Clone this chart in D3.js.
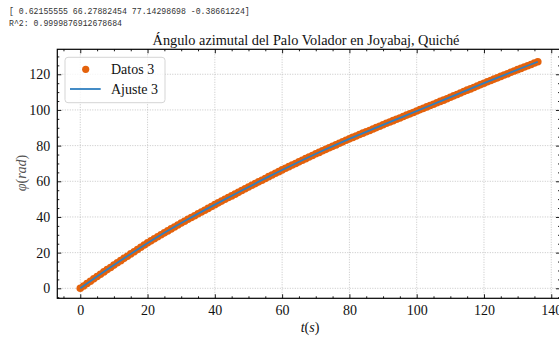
<!DOCTYPE html>
<html lang="es">
<head>
<meta charset="UTF-8">
<title>Ángulo azimutal</title>
<script src="https://cdn.jsdelivr.net/npm/d3@7/dist/d3.min.js"></script>
<style>
    body { margin: 0; background: #fff; }
    svg { display: block; }
    .serif { font-family: "Liberation Serif", "Times New Roman", serif; }
    .mono { font-family: "Liberation Mono", "DejaVu Sans Mono", monospace; }
</style>
</head>
<body>
<div id="chart"></div>
<script>
// printed output above the figure
const consoleLines = [
    "[ 0.62155555 66.27882454 77.14298698 -0.38661224]",
    "R^2: 0.9999876912678684"
];

// Datos 3: time (s), one point per second
const tiempo = d3.range(0, 137);   // 0 ... 136
const angulo = [
    0, 1.3, 2.7, 4.0, 5.3, 6.6, 7.9, 9.2, 10.5, 11.7,
    13.0, 14.3, 15.5, 16.8, 18.0, 19.3, 20.5, 21.8, 23.0, 24.3,
    25.5, 26.6, 27.8, 28.9, 30.0, 31.1, 32.2, 33.3, 34.4, 35.5,
    36.6, 37.6, 38.7, 39.7, 40.7, 41.8, 42.8, 43.8, 44.8, 45.9,
    46.9, 47.9, 48.9, 49.9, 50.9, 51.8, 52.8, 53.8, 54.8, 55.8,
    56.8, 57.8, 58.7, 59.7, 60.6, 61.6, 62.6, 63.5, 64.5, 65.4,
    66.4, 67.3, 68.2, 69.1, 70.0, 70.9, 71.8, 72.7, 73.6, 74.5,
    75.4, 76.2, 77.1, 77.9, 78.8, 79.6, 80.4, 81.3, 82.1, 83.0,
    83.8, 84.6, 85.4, 86.2, 87.0, 87.8, 88.5, 89.3, 90.1, 90.9,
    91.7, 92.5, 93.2, 94.0, 94.8, 95.5, 96.3, 97.1, 97.8, 98.6,
    99.4, 100.2, 100.9, 101.7, 102.5, 103.2, 104.0, 104.8, 105.5, 106.3,
    107.1, 107.9, 108.7, 109.5, 110.3, 111.1, 111.8, 112.6, 113.4, 114.2,
    115.0, 115.8, 116.5, 117.3, 118.0, 118.8, 119.6, 120.3, 121.1, 121.8,
    122.6, 123.3, 124.1, 124.8, 125.5, 126.3, 127.0
];

// Ajuste 3: fitted curve
const ajusteT = [0, 8, 16, 24, 32, 40, 48, 56, 64, 72, 80, 88, 96, 104, 112, 120, 128, 136];
const ajustePhi = [0, 10.5, 20.5, 30.0, 38.7, 46.9, 54.8, 62.6, 70.0, 77.1, 83.8, 90.1, 96.3, 102.5, 108.7, 115.0, 121.1, 127.0];

const xTicks = [0, 20, 40, 60, 80, 100, 120, 140];
const yTicks = [0, 20, 40, 60, 80, 100, 120];

const titulo = "Ángulo azimutal del Palo Volador en Joyabaj, Quiché";

const width = 559, height = 337;
const plot = { left: 57.3, right: 560, top: 49.3, bottom: 298.3 };

const svg = d3.select("#chart").append("svg")
    .attr("width", width)
    .attr("height", height);

// console text
svg.selectAll("text.console")
    .data(consoleLines)
    .enter()
    .append("text")
    .attr("class", "console mono")
    .attr("x", 9)
    .attr("y", (d, i) => 14 + i * 12)
    .attr("font-size", "8.2px")
    .attr("fill", "#333")
    .attr("xml:space", "preserve")
    .text(d => d);

const x = d3.scaleLinear().domain([-6.83, 142.6]).range([plot.left, plot.right]);
const y = d3.scaleLinear().domain([-5.6, 134.0]).range([plot.bottom, plot.top]);

const xMinor = d3.range(-5, 143, 5).filter(v => v % 20 !== 0);
const yMinor = d3.range(-5, 134, 5).filter(v => v % 20 !== 0);

// grid
const grid = svg.append("g")
    .attr("stroke", "#b8b8b8")
    .attr("stroke-width", 0.8)
    .attr("stroke-dasharray", "1,1.5");
grid.selectAll("line.gx").data(xTicks).enter().append("line")
    .attr("x1", d => x(d)).attr("x2", d => x(d))
    .attr("y1", plot.top).attr("y2", plot.bottom);
grid.selectAll("line.gy").data(yTicks).enter().append("line")
    .attr("y1", d => y(d)).attr("y2", d => y(d))
    .attr("x1", plot.left).attr("x2", plot.right);

// data points
svg.append("g")
    .selectAll("circle")
    .data(tiempo)
    .enter()
    .append("circle")
    .attr("cx", d => x(d))
    .attr("cy", (d, i) => y(angulo[i]))
    .attr("r", 3.8)
    .attr("fill", "#e4620c");

// fit line
const line = d3.line()
    .x(d => x(d))
    .y((d, i) => y(ajustePhi[i]))
    .curve(d3.curveCatmullRom);
svg.append("path")
    .datum(ajusteT)
    .attr("d", line)
    .attr("fill", "none")
    .attr("stroke", "#2f7fc0")
    .attr("stroke-width", 1.8);

// axes: ticks pointing inward on all four sides
function drawAxis(axis, pos, major, minor) {
    svg.append("g")
        .attr("transform", pos)
        .call(axis.tickValues(minor).tickSize(-2).tickFormat(""))
        .call(g => g.select(".domain").remove());
    return svg.append("g")
        .attr("transform", pos)
        .call(axis.tickValues(major).tickSize(-4).tickPadding(7).tickFormat(d3.format("d")))
        .call(g => g.select(".domain").remove());
}

drawAxis(d3.axisBottom(x), `translate(0,${plot.bottom})`, xTicks, xMinor);
drawAxis(d3.axisTop(x), `translate(0,${plot.top})`, xTicks, xMinor).selectAll("text").remove();
drawAxis(d3.axisLeft(y), `translate(${plot.left},0)`, yTicks, yMinor);
drawAxis(d3.axisRight(y), `translate(${plot.right},0)`, yTicks, yMinor).selectAll("text").remove();

svg.selectAll(".tick line").attr("stroke", "#000").attr("stroke-width", 0.9);
svg.selectAll(".tick text")
    .attr("class", "serif")
    .attr("font-size", "14px")
    .attr("fill", "#111");

// frame
svg.append("rect")
    .attr("x", plot.left).attr("y", plot.top)
    .attr("width", plot.right - plot.left)
    .attr("height", plot.bottom - plot.top)
    .attr("fill", "none")
    .attr("stroke", "#000")
    .attr("stroke-width", 1.2);

// title
svg.append("text")
    .attr("class", "serif")
    .attr("x", 306)
    .attr("y", 44.5)
    .attr("text-anchor", "middle")
    .attr("font-size", "14.3px")
    .attr("fill", "#111")
    .text(titulo);

// axis labels
const xLabel = svg.append("text")
    .attr("class", "serif")
    .attr("x", 310)
    .attr("y", 332)
    .attr("text-anchor", "middle")
    .attr("font-size", "14px")
    .attr("fill", "#111");
xLabel.append("tspan").attr("font-style", "italic").text("t");
xLabel.append("tspan").text("(");
xLabel.append("tspan").attr("font-style", "italic").text("s");
xLabel.append("tspan").text(")");

const yLabel = svg.append("text")
    .attr("class", "serif")
    .attr("transform", "translate(26,173) rotate(-90)")
    .attr("text-anchor", "middle")
    .attr("font-size", "14px")
    .attr("fill", "#555");
yLabel.append("tspan").attr("font-style", "italic").text("φ");
yLabel.append("tspan").text("(");
yLabel.append("tspan").attr("font-style", "italic").text("rad");
yLabel.append("tspan").text(")");

// legend
const legend = svg.append("g");
legend.append("rect")
    .attr("x", 65).attr("y", 57.3)
    .attr("width", 100).attr("height", 45.4)
    .attr("rx", 3)
    .attr("fill", "#fff")
    .attr("fill-opacity", 0.8)
    .attr("stroke", "#d0d0d0")
    .attr("stroke-width", 0.9);
legend.append("circle")
    .attr("cx", 85.7).attr("cy", 69.3).attr("r", 3.6)
    .attr("fill", "#e4620c");
legend.append("line")
    .attr("x1", 70).attr("x2", 100.7)
    .attr("y1", 89).attr("y2", 89)
    .attr("stroke", "#2f7fc0")
    .attr("stroke-width", 1.8);
legend.selectAll("text")
    .data(["Datos 3", "Ajuste 3"])
    .enter()
    .append("text")
    .attr("class", "serif")
    .attr("x", 111)
    .attr("y", (d, i) => 74 + i * 19.8)
    .attr("font-size", "14px")
    .attr("fill", "#111")
    .text(d => d);
</script>
</body>
</html>
